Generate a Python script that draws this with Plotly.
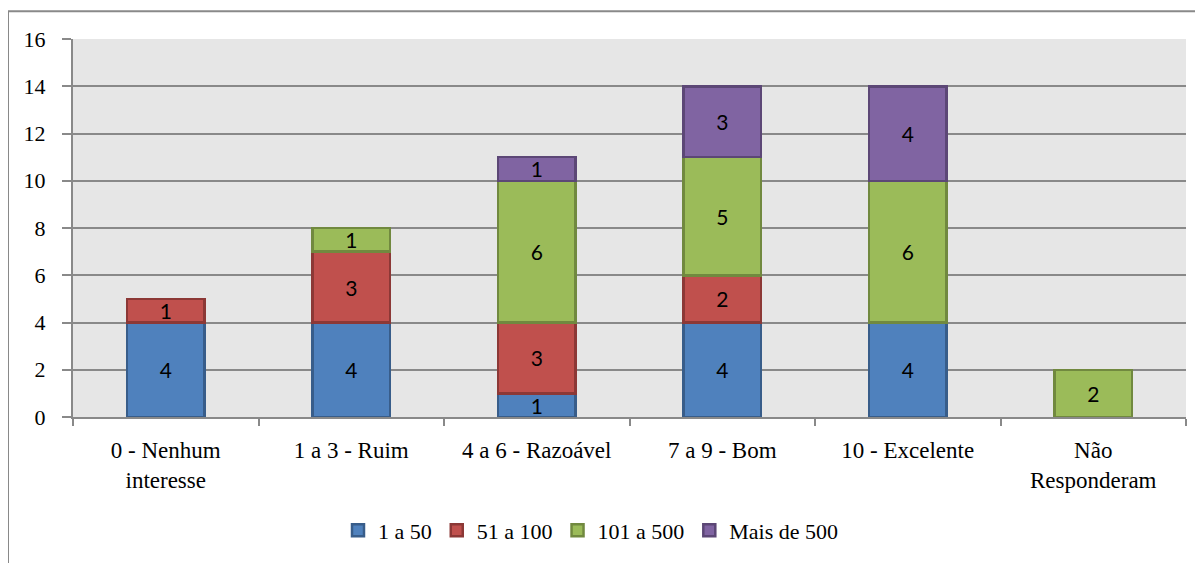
import plotly.graph_objects as go

categories = ["0 - Nenhum<br>interesse", "1 a 3 - Ruim", "4 a 6 - Razoável",
              "7 a 9 - Bom", "10 - Excelente", "Não<br>Responderam"]
s_1a50 = [4, 4, 1, 4, 4, None]
s_51a100 = [1, 3, 3, 2, None, None]
s_101a500 = [None, 1, 6, 5, 6, 2]
s_mais500 = [None, None, 1, 3, 4, None]
series_names = ["1 a 50", "51 a 100", "101 a 500", "Mais de 500"]
y_ticks = [0, 2, 4, 6, 8, 10, 12, 14, 16]

fills = ["#4F81BD", "#C0504D", "#9BBB59", "#8064A2"]
borders = ["#385D8A", "#8C3836", "#71893F", "#5C4776"]

# page body has an 8px margin; compensate
OFF = 8
W, H = 1203 - OFF, 563 - OFF
L, R, T, B = 73 - OFF, 1203 - 1186, 39 - OFF, 563 - 419
pw, ph = W - L - R, H - T - B

fig = go.Figure()
for name, vals, fc, bc in zip(series_names, [s_1a50, s_51a100, s_101a500, s_mais500], fills, borders):
    fig.add_trace(go.Bar(
        x=categories, y=vals, name=name,
        marker=dict(color=fc, line=dict(color=bc, width=2.5)),
        texttemplate="%{y}", textposition="inside", insidetextanchor="middle",
        textangle=0,
        textfont=dict(family="Lato", size=21, color="black"),
        constraintext="none",
    ))

grid = "#898989"
def px2x(p):
    return (p - OFF - L) / pw
def py2y(p):
    return (H - B - (p - OFF)) / ph

fig.update_layout(
    width=W, height=H,
    margin=dict(l=L, r=R, t=T, b=B),
    barmode="stack", bargap=0.58,
    plot_bgcolor="#E6E6E6", paper_bgcolor="white",
    uniformtext=dict(minsize=21, mode="show"),
    font=dict(family="Liberation Serif", size=22, color="black"),
    showlegend=True,
    legend=dict(orientation="h", x=px2x(591), xanchor="center", y=py2y(533), yanchor="middle",
                font=dict(family="Liberation Serif", size=22, color="black"),
                traceorder="normal", itemclick=False),
    xaxis=dict(showline=True, linecolor=grid, linewidth=2, tickson="boundaries",
               ticks="outside", ticklen=7, tickwidth=2, tickcolor=grid,
               ticklabelstandoff=11,
               showgrid=False, tickfont=dict(family="Liberation Serif", size=23)),
    yaxis=dict(range=[0, 16], tickvals=y_ticks, showline=True, linecolor=grid, linewidth=2,
               ticks="outside", ticklen=9, tickwidth=2, tickcolor=grid,
               showgrid=True, gridcolor=grid, gridwidth=2, zeroline=False,
               ticklabelstandoff=12, tickfont=dict(family="Liberation Serif", size=22)),
    shapes=[
        dict(type="line", xref="paper", yref="paper", x0=px2x(8), x1=px2x(1215),
             y0=py2y(11), y1=py2y(11), line=dict(color=grid, width=2)),
        dict(type="line", xref="paper", yref="paper", x0=px2x(8), x1=px2x(8),
             y0=py2y(11), y1=py2y(575), line=dict(color=grid, width=2)),
    ],
)

fig.write_html("out.html")
